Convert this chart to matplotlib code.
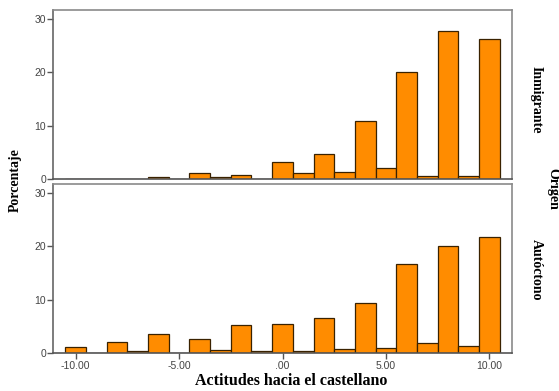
import matplotlib.pyplot as plt
import numpy as np

# puntuaciones (centro de cada intervalo) y porcentajes por origen
puntuacion = np.arange(-10, 11)
pct_inmigrante = [0, 0, 0, 0, 0.3, 0, 1.1, 0.45, 0.7, 0, 3.2,
                  1.1, 4.7, 1.25, 10.8, 2.0, 20.0, 0.6, 27.7, 0.6, 26.2]
pct_autoctono = [1.2, 0, 2.1, 0.3, 3.5, 0, 2.7, 0.6, 5.3, 0.3, 5.4,
                 0.4, 6.6, 0.7, 9.4, 1.0, 16.7, 1.9, 20.1, 1.3, 21.6]
grupos = ["Inmigrante", "Autóctono"]
xticks = [-10, -5, 0, 5, 10]
xtick_labels = ["-10.00", "-5.00", ".00", "5.00", "10.00"]
yticks = [0, 10, 20, 30]

W, H = 559, 391
fig = plt.figure(figsize=(W / 100, H / 100), dpi=100)

serif = dict(family="Liberation Serif", fontweight="bold", fontsize=10)


def px(x, y):
    return x / W, 1 - y / H


# panel superior: 10..179 px, inferior: 184..353 px
paneles = [(10, 179), (184, 353)]
left, right = 53, 512
axes = []
for (top, bottom), datos in zip(paneles, [pct_inmigrante, pct_autoctono]):
    ax = fig.add_axes([left / W, 1 - bottom / H, (right - left) / W, (bottom - top) / H])
    ax.bar(puntuacion, datos, width=1.0, color="#ff8c00", edgecolor="#3a2200",
           linewidth=0.9, zorder=2)
    ax.set_xlim(-11.1, 11.1)
    ax.set_ylim(0, 31.6)
    ax.set_yticks(yticks)
    ax.tick_params(axis="y", length=4, width=1, color="#555555", labelsize=7.5,
                   labelcolor="#444444", pad=1)
    for lab in ax.get_yticklabels():
        lab.set_family("Liberation Sans")
    for s in ax.spines.values():
        s.set_color("#8a8a8a")
        s.set_linewidth(1.2)
    ax.spines["bottom"].set_color("#555555")
    ax.spines["left"].set_color("#666666")
    axes.append(ax)

axes[0].set_xticks([])
axes[1].set_xticks(xticks)
axes[1].set_xticklabels(xtick_labels, family="Liberation Sans")
axes[1].tick_params(axis="x", length=4, width=1, color="#555555", labelsize=7.5,
                    labelcolor="#444444", pad=2)

# etiquetas de los ejes y de las filas
fig.text(*px(15, 180), "Porcentaje", rotation=90, ha="center", va="center", **serif)
fig.text(*px(291, 381), "Actitudes hacia el castellano", ha="center", va="center",
         family="Liberation Serif", fontweight="bold", fontsize=11.5)
fig.text(*px(536, 100), grupos[0], rotation=-90, ha="center", va="center", **serif)
fig.text(*px(536, 270), grupos[1], rotation=-90, ha="center", va="center", **serif)
fig.text(*px(553, 189), "Origen", rotation=-90, ha="center", va="center", **serif)

fig.savefig("out.png", dpi=100)
